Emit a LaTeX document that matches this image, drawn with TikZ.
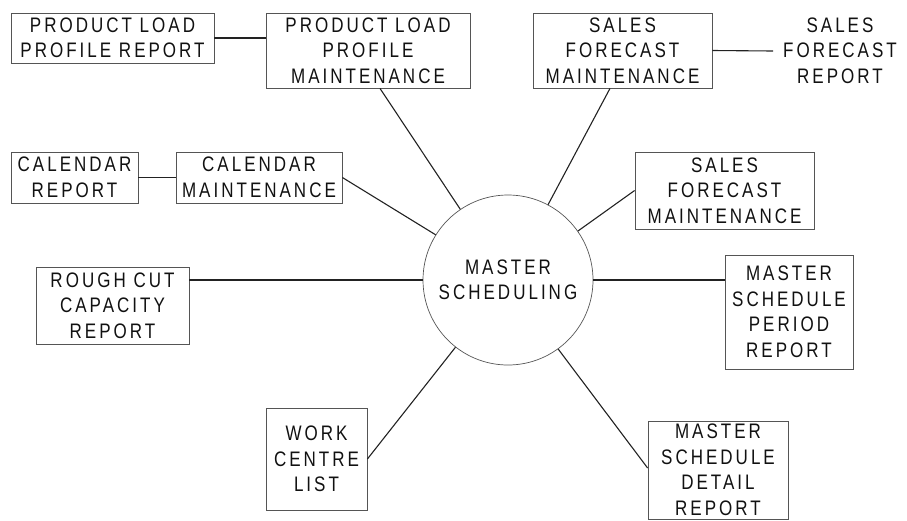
\documentclass[tikz,border=0pt]{standalone}
\usepackage{fontspec}
\setmainfont{Liberation Sans}[FakeStretch=0.81,LetterSpace=14.3]
\definecolor{boxc}{HTML}{555555}
\definecolor{linec}{HTML}{222222}
\definecolor{txt}{HTML}{111111}
\tikzset{
  box/.style={draw=boxc, line width=0.8pt, align=center, inner sep=0pt,
    font=\fontsize{21}{25.5}\selectfont, text=txt},
  plain/.style={align=center, inner sep=0pt, font=\fontsize{21}{25.5}\selectfont, text=txt},
  conn/.style={draw=linec, line width=1.1pt},
  hub/.style={draw=boxc, line width=0.7pt, circle, minimum size=170pt, inner sep=0pt,
    align=center, font=\fontsize{21}{25}\selectfont, text=txt}
}
\begin{document}
\begin{tikzpicture}[x=1pt,y=-1pt]
\useasboundingbox (0,0) rectangle (907,520);
\node[hub] (ms) at (508,280) {MASTER\\SCHEDULING};
\node[box, minimum width=203pt, minimum height=50pt] (plpr) at (112.5,38) {PRODUCT LOAD\\PROFILE REPORT};
\node[box, minimum width=204pt, minimum height=75pt] (plpm) at (368,50.5) {PRODUCT LOAD\\PROFILE\\MAINTENANCE};
\node[box, minimum width=179pt, minimum height=75pt] (sfma) at (622.5,50.5) {SALES\\FORECAST\\MAINTENANCE};
\node[plain, minimum width=130pt, minimum height=75pt] (sfr) at (840,50.5) {SALES\\FORECAST\\REPORT};
\node[box, minimum width=127pt, minimum height=51pt] (calr) at (74.5,177.5) {CALENDAR\\REPORT};
\node[box, minimum width=166pt, minimum height=51pt] (calm) at (259,177.5) {CALENDAR\\MAINTENANCE};
\node[box, minimum width=153pt, minimum height=77pt] (rcc) at (112.5,305.5) {ROUGH CUT\\CAPACITY\\REPORT};
\node[box, minimum width=179pt, minimum height=77pt] (sfmb) at (724.5,190.5) {SALES\\FORECAST\\MAINTENANCE};
\node[box, minimum width=128pt, minimum height=114pt] (mspr) at (789,312) {MASTER\\SCHEDULE\\PERIOD\\REPORT};
\node[box, minimum width=101pt, minimum height=102pt] (wcl) at (316.5,459) {WORK\\CENTRE\\LIST};
\node[box, minimum width=140pt, minimum height=98pt] (msdr) at (718,470) {MASTER\\SCHEDULE\\DETAIL\\REPORT};
\coordinate (sfrw) at (773,51);
\path[conn] (plpr.east) -- (plpr.east -| plpm.west);
\path[conn] ([xshift=12pt]plpm.south) -- (ms.124);
\path[conn] ([xshift=-12.5pt]sfma.south) -- (ms.62);
\path[conn] (sfma.east) -- (sfrw);
\path[conn] (calr.east) -- (calm.west);
\path[conn] (calm.east) -- (ms.148);
\path[conn] (ms.west -| rcc.east) -- (ms.west);
\path[conn] (sfmb.west) -- (ms.35);
\path[conn] (ms.east) -- (ms.east -| mspr.west);
\path[conn] (wcl.east) -- (ms.232);
\path[conn] ([yshift=2pt]msdr.west) -- (ms.306);
\end{tikzpicture}
\end{document}
